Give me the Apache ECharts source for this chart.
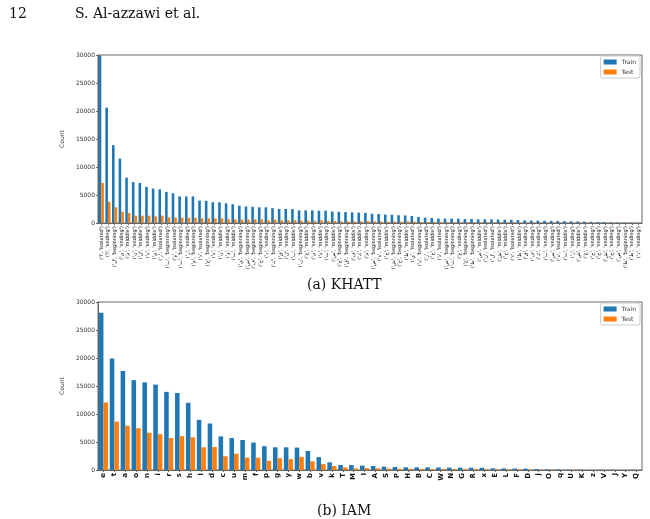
<!DOCTYPE html>
<html>
<head>
<meta charset="utf-8">
<title>KHATT / IAM character counts</title>
<script src="https://cdn.jsdelivr.net/npm/echarts@6/dist/echarts.min.js"></script>
<style>
  html, body { margin: 0; padding: 0; background: #fff; }
  #chart { width: 650px; height: 519px; }
</style>
</head>
<body>
<div id="chart"></div>
<script>
// KHATT: (character, form) categories
const khattLabels = [
  "('ا', 'isolated')", "('ا', 'ending')", "('ل', 'beginning')", "('ي', 'ending')", "('م', 'middle')",
  "('ن', 'ending')", "('ل', 'middle')", "('ه', 'ending')", "('ي', 'middle')", "('ر', 'isolated')",
  "('ب', 'beginning')", "('و', 'isolated')", "('ت', 'beginning')", "('ر', 'ending')", "('م', 'beginning')",
  "('د', 'isolated')", "('ع', 'beginning')", "('ة', 'ending')", "('ن', 'middle')", "('و', 'ending')",
  "('ت', 'middle')", "('ي', 'beginning')", "('س', 'beginning')", "('ف', 'beginning')", "('ح', 'beginning')",
  "('د', 'ending')", "('ك', 'beginning')", "('ق', 'middle')", "('ل', 'ending')", "('ب', 'middle')",
  "('ن', 'beginning')", "('ع', 'middle')", "('ى', 'ending')", "('ه', 'middle')", "('ت', 'ending')",
  "('س', 'middle')", "('ج', 'beginning')", "('ق', 'beginning')", "('ف', 'middle')", "('ك', 'middle')",
  "('م', 'ending')", "('ص', 'beginning')", "('ة', 'isolated')", "('ح', 'middle')", "('ش', 'beginning')",
  "('خ', 'beginning')", "('ط', 'middle')", "('ي', 'isolated')", "('ه', 'beginning')", "('ز', 'isolated')",
  "('ج', 'middle')", "('ذ', 'isolated')", "('ض', 'beginning')", "('ث', 'beginning')", "('ع', 'ending')",
  "('غ', 'beginning')", "('ط', 'beginning')", "('ص', 'middle')", "('ن', 'isolated')", "('ل', 'isolated')",
  "('ش', 'middle')", "('خ', 'middle')", "('ء', 'isolated')", "('ظ', 'middle')", "('ق', 'ending')",
  "('ف', 'ending')", "('ك', 'ending')", "('ب', 'ending')", "('س', 'ending')", "('ه', 'isolated')",
  "('ث', 'middle')", "('ز', 'ending')", "('ض', 'middle')", "('غ', 'middle')", "('ح', 'ending')",
  "('ج', 'ending')", "('ش', 'ending')", "('خ', 'ending')", "('ص', 'ending')", "('ظ', 'beginning')",
  "('ط', 'ending')", "('ذ', 'ending')"
]
const khattTrain = [
  29900, 20600, 13900, 11500, 8100, 7300, 7150, 6450, 6150, 6000,
  5550, 5300, 4750, 4750, 4750, 4000, 3950, 3700, 3700, 3500,
  3350, 3100, 2950, 2900, 2800, 2800, 2650, 2500, 2500, 2500,
  2250, 2250, 2250, 2200, 2200, 2050, 2000, 1950, 1900, 1850,
  1800, 1650, 1600, 1500, 1480, 1380, 1350, 1250, 1080, 960,
  900, 800, 780, 780, 770, 720, 710, 660, 650, 640,
  620, 600, 560, 520, 470, 440, 420, 400, 380, 350,
  320, 300, 270, 240, 210, 180, 150, 120, 90, 70,
  50, 30
]
const khattTest = [
  7150, 3800, 2800, 2020, 1790, 1310, 1310, 1310, 1190, 1310,
  1010, 950, 950, 950, 950, 830, 830, 830, 830, 650,
  650, 600, 600, 650, 650, 480, 600, 480, 480, 480,
  420, 420, 420, 480, 360, 360, 300, 300, 300, 300,
  350, 300, 280, 250, 260, 240, 300, 250, 200, 180,
  200, 160, 150, 150, 140, 130, 120, 120, 110, 100,
  100, 90, 90, 80, 80, 70, 70, 60, 60, 50,
  50, 40, 40, 30, 30, 20, 20, 20, 10, 10,
  10, 5
]

// IAM: characters
const iamLabels = [
  'e', 't', 'a', 'o', 'n', 'i', 'r', 's', 'h', 'l', 'd', 'c', 'u', 'm', 'f', 'p', 'g', 'y', 'w', 'b',
  'v', 'k', 'T', 'M', 'I', 'A', 'S', 'P', 'H', 'B', 'C', 'W', 'N', 'G', 'R', 'x', 'E', 'L', 'F', 'D',
  'j', 'O', 'q', 'U', 'K', 'z', 'V', 'J', 'Y', 'Q'
]
const iamTrain = [
  28100, 19900, 17700, 16050, 15650, 15250, 13950, 13750, 12000, 8950,
  8300, 6000, 5700, 5350, 4900, 4250, 4050, 4050, 4000, 3400,
  2300, 1370, 900, 880, 780, 720, 600, 540, 480, 480,
  470, 460, 420, 420, 410, 400, 300, 280, 260, 240,
  150, 120, 110, 60, 50, 40, 30, 30, 20, 15
]
const iamTest = [
  12050, 8650, 7900, 7450, 6650, 6400, 5700, 6050, 5850, 4050,
  4100, 2450, 2900, 2200, 2200, 1650, 2100, 1950, 2350, 1550,
  1050, 720, 450, 280, 330, 300, 250, 200, 200, 180,
  170, 170, 160, 150, 150, 140, 120, 110, 100, 90,
  60, 50, 40, 25, 20, 15, 10, 10, 8, 5
]

const yTicks = { min: 0, max: 30000, interval: 5000 }
const blue = '#1f77b4'
const orange = '#ff7f0e'
const serif = "'DejaVu Serif', 'Liberation Serif', serif"

const chart = echarts.init(document.getElementById('chart'))

function yAxis(gridIndex) {
  return {
    type: 'value',
    gridIndex,
    min: yTicks.min,
    max: yTicks.max,
    interval: yTicks.interval,
    name: 'Count',
    nameLocation: 'middle',
    nameGap: 27,
    nameTextStyle: { fontSize: 6, color: '#333', fontFamily: 'DejaVu Sans' },
    axisLine: { show: true, lineStyle: { color: '#666', width: 1 } },
    axisTick: { show: true, length: 2, lineStyle: { color: '#666' } },
    axisLabel: { fontSize: 6, color: '#333', margin: 3, fontFamily: 'DejaVu Sans', formatter: v => String(v) },
    splitLine: { show: false }
  }
}

function xAxis(gridIndex, data, labelStyle) {
  return {
    type: 'category',
    gridIndex,
    data,
    axisLine: { lineStyle: { color: '#666', width: 1 } },
    axisTick: { show: true, alignWithLabel: true, length: 2, lineStyle: { color: '#666' } },
    axisLabel: Object.assign({ interval: 0, rotate: 90, margin: 3, color: '#111' }, labelStyle)
  }
}

function legend(top) {
  return {
    orient: 'vertical',
    right: 10,
    top,
    itemWidth: 13,
    itemHeight: 5,
    itemGap: 4,
    padding: [3, 4, 3, 3],
    icon: 'rect',
    borderColor: '#ccc',
    borderWidth: 1,
    borderRadius: 2,
    backgroundColor: '#fff',
    textStyle: { fontSize: 6, color: '#333', fontFamily: 'DejaVu Sans' },
    data: ['Train', 'Test']
  }
}

function bars(name, data, color, idx, gap) {
  return {
    name,
    type: 'bar',
    xAxisIndex: idx,
    yAxisIndex: idx,
    data,
    barGap: '0%',
    barCategoryGap: gap,
    itemStyle: { color }
  }
}

const option = {
  animation: false,
  backgroundColor: '#fff',
  color: [blue, orange],
  title: [
    { text: '12', left: 4, top: 2, textStyle: { fontFamily: serif, fontSize: 14, fontWeight: 'normal', color: '#111' } },
    { text: 'S. Al-azzawi et al.', left: 70, top: 2, textStyle: { fontFamily: serif, fontSize: 14, fontWeight: 'normal', color: '#111' } },
    { text: '(a) KHATT', left: 302, top: 273, textStyle: { fontFamily: serif, fontSize: 14, fontWeight: 'normal', color: '#111' } },
    { text: '(b) IAM', left: 312, top: 499, textStyle: { fontFamily: serif, fontSize: 14, fontWeight: 'normal', color: '#111' } }
  ],
  legend: [legend(56), legend(303)],
  grid: [
    { left: 98, top: 55, width: 544, height: 168, show: true, borderColor: '#666', borderWidth: 1 },
    { left: 98, top: 302, width: 544, height: 168, show: true, borderColor: '#666', borderWidth: 1 }
  ],
  xAxis: [
    xAxis(0, khattLabels, { fontSize: 5, fontFamily: 'DejaVu Sans' }),
    xAxis(1, iamLabels, { fontSize: 7, fontWeight: 'bold', fontFamily: 'DejaVu Sans' })
  ],
  yAxis: [yAxis(0), yAxis(1)],
  series: [
    bars('Train', khattTrain, blue, 0, '22%'),
    bars('Test', khattTest, orange, 0, '22%'),
    bars('Train', iamTrain, blue, 1, '16%'),
    bars('Test', iamTest, orange, 1, '16%')
  ]
}

chart.setOption(option)
</script>
</body>
</html>
